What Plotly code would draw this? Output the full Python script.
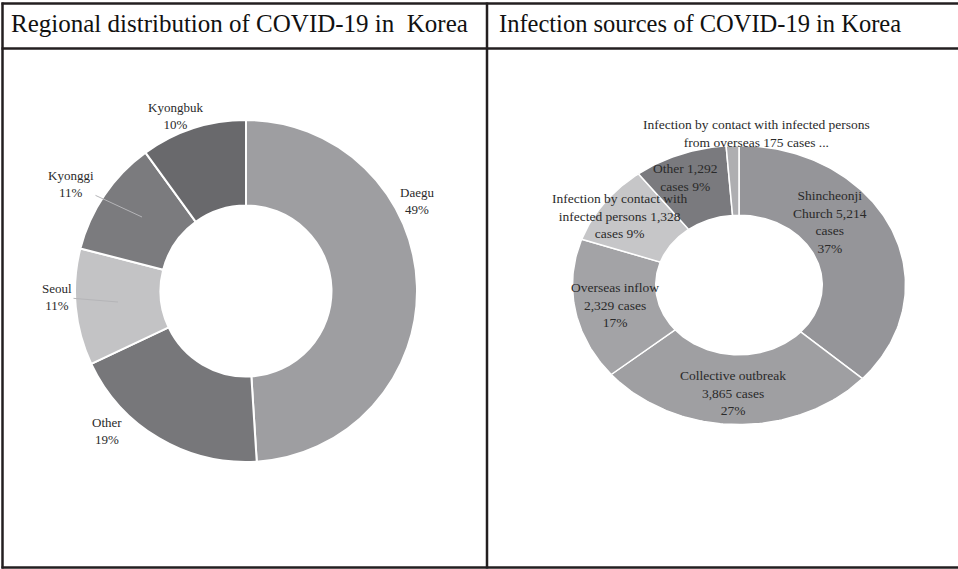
import numpy as np
import plotly.graph_objects as go

W, H = 958, 569

# ---------------- data ----------------
panel_titles = ["Regional distribution of COVID-19 in\u00a0 Korea",
                "Infection sources of COVID-19 in Korea"]

region_labels = ["Daegu", "Other", "Seoul", "Kyonggi", "Kyongbuk"]
region_pct = [49, 19, 11, 11, 10]
region_colors = ["#9e9ea1", "#77777a", "#c3c3c5", "#7b7b7e", "#69696c"]

source_labels = ["Shincheonji Church", "Collective outbreak", "Overseas inflow",
                 "Infection by contact with infected persons", "Other",
                 "Infection by contact with infected persons from overseas"]
source_cases = [5214, 3865, 2329, 1328, 1292, 175]
source_pct = ["37%", "27%", "17%", "9%", "9%", "..."]
source_colors = ["#959599", "#9f9fa2", "#a3a3a6", "#c6c6c8", "#7a7a7e", "#aeaeb1"]

# ---------------- helpers ----------------
def px(x, y):
    return x / W, 1 - y / H

FONT = "Liberation Serif, Times New Roman, serif"
TXT = "#2a2a2a"

fig = go.Figure()

# Left donut (circular)
lx0, lx1 = 75, 417
ly0, ly1 = 120, 462
fig.add_trace(go.Pie(
    labels=region_labels, values=region_pct, sort=False, direction="clockwise",
    rotation=0, hole=0.5, textinfo="none", hoverinfo="label+percent",
    marker=dict(colors=region_colors, line=dict(color="white", width=2)),
    domain=dict(x=[lx0 / W, lx1 / W], y=[1 - ly1 / H, 1 - ly0 / H]),
    showlegend=False,
))

# Right donut (elliptical) drawn on hidden axes
total = float(sum(source_cases))
cum = 0.0
for lab, val, col in zip(source_labels, source_cases, source_colors):
    a0 = np.pi / 2 - 2 * np.pi * cum / total
    a1 = np.pi / 2 - 2 * np.pi * (cum + val) / total
    cum += val
    n = max(4, int(abs(a1 - a0) * 60))
    t = np.linspace(a0, a1, n)
    xs = np.concatenate([np.cos(t), 0.5 * np.cos(t[::-1]), [np.cos(a0)]])
    ys = np.concatenate([np.sin(t), 0.5 * np.sin(t[::-1]), [np.sin(a0)]])
    fig.add_trace(go.Scatter(
        x=xs, y=ys, mode="lines", fill="toself", fillcolor=col,
        line=dict(color="white", width=1.5), name=lab,
        hoverinfo="name", showlegend=False, xaxis="x2", yaxis="y2",
    ))

rx0, rx1 = 572, 906
ry0, ry1 = 145, 425
fig.update_layout(
    xaxis2=dict(domain=[rx0 / W, rx1 / W], range=[-1.003, 1.003], visible=False,
                fixedrange=True),
    yaxis2=dict(domain=[1 - ry1 / H, 1 - ry0 / H], range=[-1.003, 1.003], visible=False,
                fixedrange=True, anchor="x2"),
    xaxis=dict(visible=False), yaxis=dict(visible=False),
)

annotations = []

# Titles
for title, x, fs in zip(panel_titles, [9, 497], [25, 24.5]):
    ax_, ay_ = px(x, 23)
    annotations.append(dict(text=title, x=ax_, y=ay_, xref="paper", yref="paper",
                            xanchor="left", yanchor="middle", showarrow=False,
                            font=dict(family=FONT, size=fs, color="#111111")))

# Left labels
left_pos = {
    "Daegu": (417, 201, None),
    "Other": (107, 431, None),
    "Seoul": (57, 297, (118, 302)),
    "Kyonggi": (71, 184, (142, 217)),
    "Kyongbuk": (175, 116, None),
}
for lab, pct in zip(region_labels, region_pct):
    tx, ty, pt = left_pos[lab]
    text = f"{lab}<br>{pct}%"
    if pt is None:
        x, y = px(tx, ty)
        annotations.append(dict(text=text, x=x, y=y, xref="paper", yref="paper",
                                xanchor="center", yanchor="middle",
                                showarrow=False, align="center",
                                font=dict(family=FONT, size=13, color=TXT)))
    else:
        x, y = px(*pt)
        annotations.append(dict(text=text, x=x, y=y, xref="paper", yref="paper",
                                xanchor="center", yanchor="middle",
                                showarrow=True, arrowhead=0, arrowwidth=1,
                                arrowcolor="#b5b5b8", ax=tx - pt[0], ay=ty - pt[1],
                                align="center",
                                font=dict(family=FONT, size=13, color=TXT)))

# Right labels
c = source_cases
p = source_pct
right_text = [
    f"Shincheonji<br>Church {c[0]:,}<br>cases<br>{p[0]}",
    f"Collective outbreak<br>{c[1]:,} cases<br>{p[1]}",
    f"Overseas inflow<br>{c[2]:,} cases<br>{p[2]}",
    f"Infection by contact with<br>infected persons {c[3]:,}<br>cases {p[3]}",
    f"Other {c[4]:,}<br>cases {p[4]}",
    f"Infection by contact with infected persons<br>from overseas {c[5]} cases {p[5]}",
]
right_pos = [(830, 222), (733, 393), (615, 305), (620, 216), (685, 177), (756, 133)]
for text, (tx, ty) in zip(right_text, right_pos):
    x, y = px(tx, ty)
    annotations.append(dict(text=text, x=x, y=y, xref="paper", yref="paper",
                            xanchor="center", yanchor="middle",
                            showarrow=False, align="center",
                            font=dict(family=FONT, size=13.5, color=TXT)))

# Table frame
LC = "#231f20"
shapes = []
def hline(y, x0=2, x1=W):
    a, b = px(x0, y)
    c2, _ = px(x1, y)
    shapes.append(dict(type="line", xref="paper", yref="paper", x0=a, x1=c2, y0=b, y1=b,
                       line=dict(color=LC, width=2.5)))
def vline(x, y0=3, y1=568):
    a, b = px(x, y0)
    _, d = px(x, y1)
    shapes.append(dict(type="line", xref="paper", yref="paper", x0=a, x1=a, y0=b, y1=d,
                       line=dict(color=LC, width=2.5)))
hline(3.5, 1.5)
hline(48.5, 1.5)
hline(567.5, 1.5)
vline(2.5, 2.5, 568.5)
vline(487, 2.5, 568.5)

fig.update_layout(
    width=W, height=H, margin=dict(l=0, r=0, t=0, b=0),
    paper_bgcolor="white", plot_bgcolor="white",
    annotations=annotations, shapes=shapes, showlegend=False,
)

fig.write_html("out.html", config={"displayModeBar": False},
               post_script="document.body.style.margin='0px';document.body.style.overflow='hidden';")
